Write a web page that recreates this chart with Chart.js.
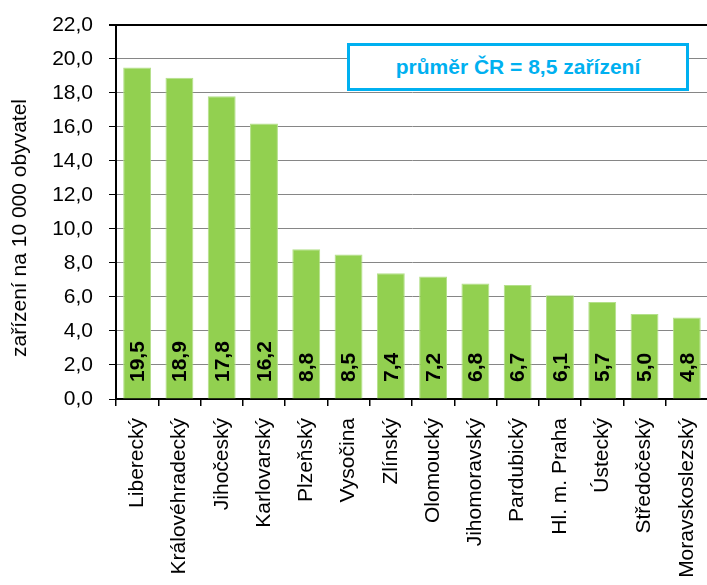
<!DOCTYPE html>
<html>
<head>
<meta charset="utf-8">
<script src="https://cdn.jsdelivr.net/npm/chart.js@4/dist/chart.umd.min.js"></script>
<style>
  html, body { margin: 0; padding: 0; background: #fff; }
  #wrap { position: relative; width: 707px; height: 585px; overflow: hidden; }
  #c { position: absolute; left: 0; top: 0; }
  #avg {
    position: absolute; left: 347px; top: 43px; width: 336px; height: 42px;
    border: 3px solid #00B0F0; background: #fff;
    color: #00B0F0; font: bold 21px "Liberation Sans", Arial, sans-serif;
    display: flex; align-items: center; justify-content: center; white-space: nowrap;
  }
  #ytitle {
    position: absolute; left: 19px; top: 228px; white-space: nowrap;
    transform: translate(-50%, -50%) rotate(-90deg);
    font: 21px "Liberation Sans", Arial, sans-serif; color: #000;
  }
</style>
</head>
<body>
<div id="wrap">
  <canvas id="c" width="724" height="585"></canvas>
  <div id="avg">průměr ČR = 8,5 zařízení</div>
  <div id="ytitle">zařízení na 10 000 obyvatel</div>
</div>
<script>
const categories = ["Liberecký", "Královéhradecký", "Jihočeský", "Karlovarský", "Plzeňský", "Vysočina", "Zlínský", "Olomoucký", "Jihomoravský", "Pardubický", "Hl. m. Praha", "Ústecký", "Středočeský", "Moravskoslezský"];
const values = [19.5, 18.9, 17.8, 16.2, 8.8, 8.5, 7.4, 7.2, 6.8, 6.7, 6.1, 5.7, 5.0, 4.8];
const yMin = 0, yMax = 22, yStep = 2;

const fmt = v => Number(v).toFixed(1).replace('.', ',');
const FONT = '"Liberation Sans", Arial, sans-serif';

const valueLabels = {
  id: 'valueLabels',
  afterDatasetsDraw(chart) {
    const ctx = chart.ctx;
    const meta = chart.getDatasetMeta(0);
    const base = chart.chartArea.bottom;
    ctx.save();
    ctx.font = 'bold 21px ' + FONT;
    ctx.fillStyle = '#000';
    ctx.textAlign = 'left';
    ctx.textBaseline = 'middle';
    meta.data.forEach((bar, i) => {
      ctx.save();
      ctx.translate(bar.x, base - 17);
      ctx.rotate(-Math.PI / 2);
      ctx.fillText(fmt(values[i]), 0, 1);
      ctx.restore();
    });
    ctx.restore();
  }
};

new Chart(document.getElementById('c'), {
  type: 'bar',
  data: {
    labels: categories,
    datasets: [{
      data: values,
      backgroundColor: '#92D050',
      borderColor: '#B4E08A',
      borderWidth: 1,
      barPercentage: 0.66,
      categoryPercentage: 1.0
    }]
  },
  options: {
    responsive: false,
    animation: false,
    layout: { padding: { left: 0, right: 0, top: 0, bottom: 0 } },
    plugins: { legend: { display: false }, tooltip: { enabled: false } },
    scales: {
      x: {
        grid: { display: true, drawOnChartArea: false, offset: true, tickLength: 7, color: '#000', lineWidth: 1.5 },
        border: { display: true, color: '#000', width: 2 },
        ticks: { minRotation: 90, maxRotation: 90, autoSkip: false, padding: 12, color: '#000', font: { family: FONT, size: 21 } },
        afterFit(scale) { scale.height = 186; }
      },
      y: {
        min: yMin, max: yMax,
        grid: {
          color: c => (c.tick && (c.tick.value === yMax || c.tick.value === yMin)) ? '#000' : '#868686',
          lineWidth: c => (c.tick && c.tick.value === yMax) ? 2 : 1,
          tickLength: 7, tickColor: '#000', drawTicks: true
        },
        border: { display: true, color: '#000', width: 2 },
        ticks: { stepSize: yStep, padding: 16, color: '#000', font: { family: FONT, size: 21, lineHeight: 0.85 }, callback: v => fmt(v) },
        afterFit(scale) { scale.width = 116; }
      }
    }
  },
  plugins: [valueLabels]
});
</script>
</body>
</html>
